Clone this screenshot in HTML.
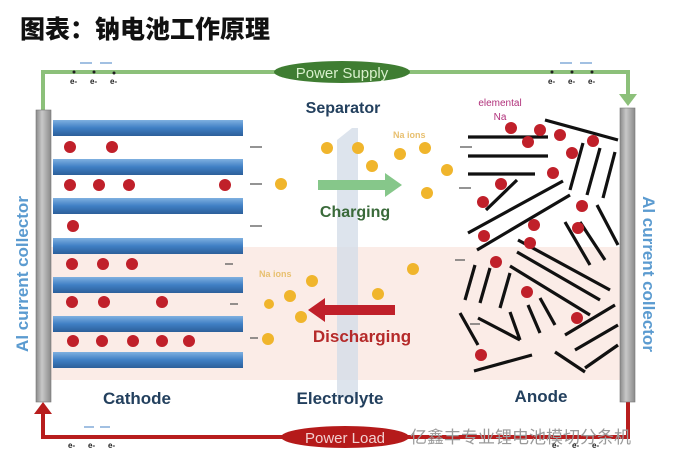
<!DOCTYPE html>
<html><head><meta charset="utf-8"><style>
html,body{margin:0;padding:0;background:#fff;width:676px;height:464px;overflow:hidden}
svg{display:block}
text{font-family:"Liberation Sans",sans-serif;font-weight:bold}
</style></head><body>
<svg width="676" height="464" viewBox="0 0 676 464" xmlns="http://www.w3.org/2000/svg">
<defs>
<linearGradient id="bar" x1="0" y1="0" x2="0" y2="1"><stop offset="0" stop-color="#7fb0e0"/><stop offset="0.5" stop-color="#3f7fc4"/><stop offset="1" stop-color="#2c5f9a"/></linearGradient>
<linearGradient id="col" x1="0" y1="0" x2="1" y2="0"><stop offset="0" stop-color="#8a8a8a"/><stop offset="0.4" stop-color="#c8c8c8"/><stop offset="1" stop-color="#8a8a8a"/></linearGradient>
</defs>
<text x="20" y="38" font-size="25" fill="#111" style="font-family:'Liberation Sans','Noto Sans CJK SC',sans-serif;font-weight:900">图表：钠电池工作原理</text>
<rect x="50" y="247" width="570" height="133" fill="#fbece7"/>
<!-- green wire -->
<path d="M43 110 V72 H628 V98" fill="none" stroke="#8cc07a" stroke-width="4"/>
<path d="M619 94 L637 94 L628 106 Z" fill="#8cc07a"/>
<ellipse cx="342" cy="72" rx="68" ry="11" fill="#3f7d32"/>
<text x="342" y="78" font-size="15" fill="#d8f0cc" text-anchor="middle" font-weight="normal" style="font-weight:normal">Power Supply</text>
<!-- red wire -->
<path d="M43 410 V437 H628 V402" fill="none" stroke="#b81d1d" stroke-width="4"/>
<path d="M34 414 L52 414 L43 402 Z" fill="#b81d1d"/>
<ellipse cx="345" cy="437" rx="64" ry="11" fill="#b51a1a"/>
<text x="345" y="443" font-size="15" fill="#f2d0d0" text-anchor="middle" style="font-weight:normal">Power Load</text>
<text x="410" y="443" font-size="17" fill="#9a9a9a" style="font-family:'Liberation Sans','Noto Sans CJK SC',sans-serif;font-weight:normal">亿鑫丰专业锂电池模切分条机</text>
<!-- electrons -->
<g fill="#222" font-size="8" style="font-weight:normal">
<circle cx="74" cy="72" r="1.5"/><circle cx="94" cy="72" r="1.5"/><circle cx="114" cy="73" r="1.5"/>
<text x="70" y="84">e-</text><text x="90" y="84">e-</text><text x="110" y="84">e-</text>
<circle cx="552" cy="72" r="1.5"/><circle cx="572" cy="72" r="1.5"/><circle cx="592" cy="72" r="1.5"/>
<text x="548" y="84">e-</text><text x="568" y="84">e-</text><text x="588" y="84">e-</text>
<text x="68" y="448">e-</text><text x="88" y="448">e-</text><text x="108" y="448">e-</text>
<text x="552" y="448">e-</text><text x="572" y="448">e-</text><text x="592" y="448">e-</text>
</g>
<g stroke="#6a9ad0" stroke-width="1.2"><path d="M80 63h12M100 63h12M560 63h12M580 63h12M84 427h10M100 427h10"/></g>
<!-- collectors -->
<rect x="36" y="110" width="15" height="292" fill="url(#col)" stroke="#777" stroke-width="0.6"/>
<rect x="620" y="108" width="15" height="294" fill="url(#col)" stroke="#777" stroke-width="0.6"/>
<text transform="translate(28,274) rotate(-90)" font-size="17" fill="#5b9bd0" text-anchor="middle">Al current collector</text>
<text transform="translate(643,274) rotate(90)" font-size="17" fill="#5b9bd0" text-anchor="middle">Al current collector</text>
<!-- cathode bars -->
<g fill="url(#bar)">
<rect x="53" y="120" width="190" height="16"/><rect x="53" y="159" width="190" height="16"/>
<rect x="53" y="198" width="190" height="16"/><rect x="53" y="238" width="190" height="16"/>
<rect x="53" y="277" width="190" height="16"/><rect x="53" y="316" width="190" height="16"/>
<rect x="53" y="352" width="190" height="16"/>
</g>
<g fill="#c0202a">
<circle cx="70" cy="147" r="6"/><circle cx="112" cy="147" r="6"/>
<circle cx="70" cy="185" r="6"/><circle cx="99" cy="185" r="6"/><circle cx="129" cy="185" r="6"/><circle cx="225" cy="185" r="6"/>
<circle cx="73" cy="226" r="6"/>
<circle cx="72" cy="264" r="6"/><circle cx="103" cy="264" r="6"/><circle cx="132" cy="264" r="6"/>
<circle cx="72" cy="302" r="6"/><circle cx="104" cy="302" r="6"/><circle cx="162" cy="302" r="6"/>
<circle cx="73" cy="341" r="6"/><circle cx="102" cy="341" r="6"/><circle cx="133" cy="341" r="6"/><circle cx="162" cy="341" r="6"/><circle cx="189" cy="341" r="6"/>
</g>
<!-- separator -->
<path d="M337 140 L352 128 L358 128 L358 398 L337 398 Z" fill="#d5dde8" opacity="0.8"/>
<text x="343" y="113" font-size="16" fill="#23405e" text-anchor="middle">Separator</text>
<!-- na ions -->
<g fill="#f0b52c">
<circle cx="327" cy="148" r="6"/><circle cx="358" cy="148" r="6"/><circle cx="372" cy="166" r="6"/><circle cx="400" cy="154" r="6"/><circle cx="425" cy="148" r="6"/><circle cx="447" cy="170" r="6"/><circle cx="281" cy="184" r="6"/><circle cx="427" cy="193" r="6"/>
<circle cx="413" cy="269" r="6"/><circle cx="312" cy="281" r="6"/><circle cx="290" cy="296" r="6"/><circle cx="378" cy="294" r="6"/><circle cx="301" cy="317" r="6"/><circle cx="268" cy="339" r="6"/><circle cx="269" cy="304" r="5"/>
</g>
<g font-size="9" fill="#e8c070" style="font-weight:normal"><text x="393" y="138">Na ions</text><text x="259" y="277">Na ions</text></g>
<!-- arrows -->
<path d="M318 180 H385 V173 L402 185 L385 197 V190 H318 Z" fill="#86c78a"/>
<text x="355" y="217" font-size="16" fill="#3a6a3a" text-anchor="middle">Charging</text>
<path d="M395 305 H325 V298 L308 310 L325 322 V315 H395 Z" fill="#c0202a"/>
<text x="362" y="342" font-size="17" fill="#b52a2a" text-anchor="middle">Discharging</text>
<g stroke="#555" stroke-width="1.2"><path d="M250 147h12M250 184h12M250 226h12M460 147h12M459 188h12M455 260h10M470 324h10M225 264h8M230 304h8M250 338h8"/></g>
<!-- anode -->
<text x="500" y="106" font-size="10" fill="#b0307a" text-anchor="middle" style="font-weight:normal">elemental</text>
<text x="500" y="120" font-size="10" fill="#b0307a" text-anchor="middle" style="font-weight:normal">Na</text>
<g stroke="#111" stroke-width="3.2" stroke-linecap="butt">
<path d="M468 137L548 137M468 156L548 156M468 174L535 174M545 120L618 140M486 210L517 180M468 233L563 181M477 250L570 195M570 190L583 143M587 195L600 148M603 198L615 152M597 205L618 245M580 222L605 260M565 222L590 265"/>
<path d="M465 300L475 265M480 303L490 268M500 308L510 273M518 240L610 290M517 252L600 300M510 266L590 315M460 313L478 345M478 318L520 340M510 312L520 340M528 305L540 333M540 298L555 325M565 335L615 305M575 350L618 325M474 371L532 355M555 352L585 372M585 368L618 345"/>
</g>
<g fill="#c0202a">
<circle cx="511" cy="128" r="6"/><circle cx="540" cy="130" r="6"/><circle cx="560" cy="135" r="6"/><circle cx="593" cy="141" r="6"/><circle cx="528" cy="142" r="6"/><circle cx="572" cy="153" r="6"/><circle cx="553" cy="173" r="6"/><circle cx="501" cy="184" r="6"/><circle cx="483" cy="202" r="6"/><circle cx="484" cy="236" r="6"/><circle cx="534" cy="225" r="6"/><circle cx="582" cy="206" r="6"/><circle cx="578" cy="228" r="6"/><circle cx="496" cy="262" r="6"/><circle cx="527" cy="292" r="6"/><circle cx="577" cy="318" r="6"/><circle cx="481" cy="355" r="6"/><circle cx="530" cy="243" r="6"/>
</g>
<!-- labels -->
<text x="137" y="404" font-size="17" fill="#23405e" text-anchor="middle">Cathode</text>
<text x="340" y="404" font-size="17" fill="#23405e" text-anchor="middle">Electrolyte</text>
<text x="541" y="402" font-size="17" fill="#23405e" text-anchor="middle">Anode</text>
</svg>
</body></html>
